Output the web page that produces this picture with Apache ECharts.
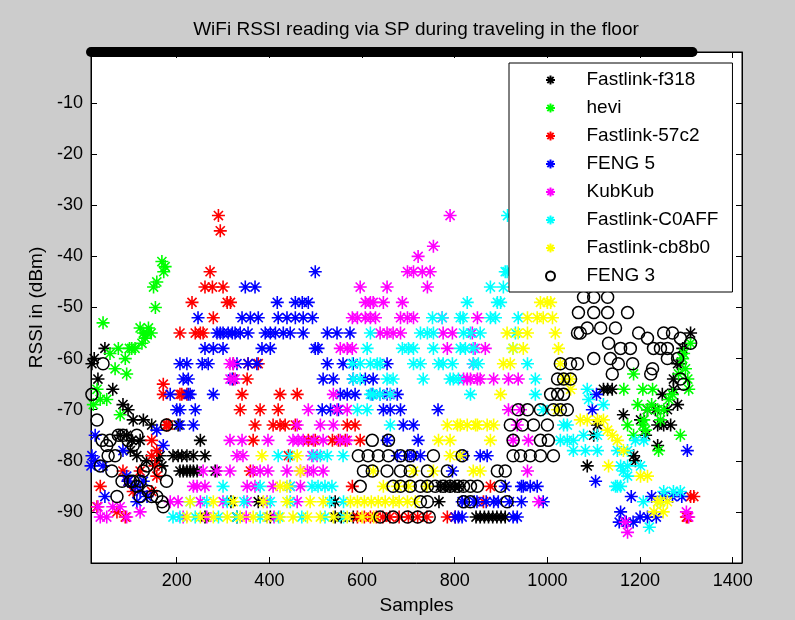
<!DOCTYPE html>
<html>
<head>
<meta charset="utf-8">
<script src="https://cdn.jsdelivr.net/npm/echarts@6.0.0/dist/echarts.min.js"></script>
<style>
html,body{margin:0;padding:0;background:#cccccc;}
#chart{width:795px;height:620px;}
</style>
</head>
<body>
<div id="chart"></div>
<script>
// ---------- DATA ----------
var seriesNames = ['Fastlink-f318','hevi','Fastlink-57c2','FENG 5','KubKub','Fastlink-C0AFF','Fastlink-cb8b0','FENG 3'];
var xTicks = [200,400,600,800,1000,1200,1400];
var yTicks = [-90,-80,-70,-60,-50,-40,-30,-20,-10];

var f318 = [
[13,-63],[17,-61],[22,-60],[30,-64],[45,-58],[62,-66],[84,-69],[95,-70],[106,-72],[128,-72],[146,-73],[178,-73],[203,-73],
[78,-75],[92,-75],[103,-76],[121,-76],[100,-78],[114,-79],[135,-80],[157,-80],[164,-79],[168,-81],[192,-79],[203,-79],[211,-79],[222,-79],[236,-79],[261,-79],
[207,-82],[214,-82],[222,-82],[229,-82],[236,-82],[244,-82],[283,-82],[251,-76],
[261,-91],[330,-91],[402,-91],[317,-88],[376,-88],[542,-88],[542,-91],[555,-91],[581,-91],[766,-88],
[769,-85],[780,-85],[790,-85],[800,-85],[810,-85],
[846,-91],[855,-91],[864,-91],[873,-91],[882,-91],[891,-91],[900,-91],[909,-91],
[1086,-81],[1100,-75],[1108,-73],[1121,-66],[1130,-66],[1140,-66],[1164,-71],[1186,-79],[1190,-80],[1201,-72],[1212,-75],[1216,-70],[1233,-70],[1238,-73],[1238,-77],[1248,-67],[1251,-73],[1259,-70],[1266,-73],[1272,-64],[1272,-66],[1281,-61],[1281,-69],[1287,-61],[1292,-58],[1309,-55]
];
var hevi = [
[13,-59],[20,-69],[28,-66],[35,-68],[41,-53],[49,-68],[56,-59],[67,-62],[74,-58],[78,-71],[89,-60],[92,-63],[98,-58],[103,-58],[110,-58],[121,-54],[125,-57],[128,-55],[132,-56],[136,-55],[139,-54],[145,-55],[150,-46],[154,-50],[157,-45],[168,-41],[172,-43],[175,-42],
[1165,-66],[1173,-73],[1186,-63],[1186,-75],[1195,-69],[1206,-66],[1206,-73],[1208,-72],[1212,-74],[1216,-70],[1225,-69],[1227,-66],[1238,-70],[1240,-78],[1244,-72],[1251,-70],[1262,-68],[1270,-67],[1283,-63],[1287,-75],[1292,-60],[1294,-59],[1298,-62],[1303,-64],[1305,-66],[1309,-57]
];
var c57c2 = [
[13,-85],[13,-89],[28,-89],[35,-85],[71,-90],[84,-82],[89,-91],[95,-84],[106,-86],[121,-82],[146,-76],[146,-79],[146,-86],[153,-81],[157,-78],[157,-83],[171,-65],[171,-67],[178,-73],[182,-73],[211,-67],
[290,-32],[294,-35],[272,-43],[261,-46],[277,-46],[300,-46],[233,-49],[309,-49],[316,-49],[279,-52],[207,-55],[240,-55],[251,-55],[257,-55],
[322,-61],[354,-61],[376,-61],[322,-64],[352,-64],[207,-67],[222,-67],[341,-67],[423,-67],[460,-67],[337,-70],[380,-70],[419,-70],
[369,-73],[408,-73],[423,-73],[434,-73],[456,-73],[568,-73],[585,-73],
[365,-76],[484,-76],[499,-76],[536,-76],[549,-76],[564,-76],[596,-76],[441,-79],[359,-82],[579,-85],[877,-85],[862,-88],
[590,-91],[605,-91],[618,-91],[631,-91],[645,-91],[660,-91],[680,-91],[700,-91],[720,-91],[740,-91],[784,-91],[801,-91],
[1300,-91],[1303,-91],[1309,-87],[1316,-87]
];
var feng5 = [
[499,-43],[348,-46],[369,-46],[417,-49],[456,-49],[471,-49],[484,-49],
[246,-52],[341,-52],[359,-52],[376,-52],[419,-52],[438,-52],[456,-52],[473,-52],[493,-52],
[287,-55],[294,-55],[300,-55],[311,-55],[320,-55],[326,-55],[337,-55],[354,-55],[391,-55],[402,-55],[413,-55],[430,-55],[445,-55],[473,-55],[525,-55],[546,-55],[574,-55],
[261,-58],[279,-58],[300,-58],[384,-58],[402,-58],[499,-58],[505,-58],
[207,-61],[222,-61],[255,-61],[268,-61],[330,-61],[354,-61],[373,-61],[525,-61],[559,-61],[581,-61],[654,-61],
[214,-64],[225,-64],[320,-64],[516,-64],[538,-64],[581,-64],[607,-64],[624,-64],
[186,-67],[225,-67],[229,-67],[279,-67],[553,-67],[568,-67],[585,-67],[622,-67],[639,-67],[654,-67],[676,-67],
[200,-70],[207,-70],[240,-70],[514,-70],[532,-70],[549,-70],[646,-70],[661,-70],[683,-70],[764,-70],
[207,-73],[236,-73],[689,-73],[711,-73],
[654,-76],[721,-76],
[676,-79],[698,-79],[711,-79],[726,-79],[819,-79],[855,-79],[870,-79],
[795,-82],
[909,-85],[944,-85],[948,-85],[963,-85],[978,-85],
[816,-88],[823,-88],[842,-88],[848,-88],[868,-88],[884,-88],[894,-88],[918,-88],[944,-88],[991,-88],
[801,-91],[808,-91],[816,-91],[926,-91],[935,-91],
[15,-81],[17,-79],[24,-75],[24,-80],[41,-81],[45,-87],[84,-78],[92,-83],[95,-84],[110,-85],[114,-88],[121,-86],[128,-84],[136,-87],[157,-74],[171,-77],
[1097,-70],[1104,-84],[1106,-67],[1155,-92],[1158,-90],[1170,-92],[1181,-87],[1185,-92],[1200,-91],[1216,-91],[1225,-87],[1235,-91],[1250,-87],[1270,-87],[1290,-87],[1302,-78]
];
var kubkub = [
[790,-32],[754,-38],[721,-40],[698,-43],[711,-43],[730,-43],[747,-43],[596,-46],[654,-46],[741,-46],
[607,-49],[618,-49],[624,-49],[646,-49],[687,-49],
[579,-52],[590,-52],[607,-52],[618,-52],[629,-52],[683,-52],[698,-52],[711,-52],[773,-52],[849,-52],
[639,-55],[654,-55],[667,-55],[683,-55],[775,-55],[795,-55],[838,-55],
[553,-58],[568,-58],[579,-58],[784,-58],[844,-58],[866,-58],
[315,-61],[322,-61],[840,-61],
[315,-64],[326,-64],[819,-64],[827,-64],[834,-64],[849,-64],[855,-64],[884,-64],[916,-64],[937,-64],
[538,-67],[661,-67],
[484,-70],[546,-70],[568,-70],[916,-70],[942,-70],
[460,-73],[510,-73],[538,-73],[935,-73],
[315,-76],[341,-76],[397,-76],[451,-76],[462,-76],[473,-76],[495,-76],[516,-76],[553,-76],[568,-76],[926,-76],[959,-76],
[330,-79],[343,-79],[492,-79],[503,-79],
[257,-82],[287,-82],[315,-82],[365,-82],[380,-82],[397,-82],[438,-82],[467,-82],[482,-82],[495,-82],[516,-82],[957,-82],
[236,-85],[244,-85],[261,-85],[352,-85],[369,-85],[408,-85],[445,-85],[467,-85],
[186,-88],[203,-88],[251,-88],[300,-88],[352,-88],[395,-88],[460,-88],[981,-88],
[30,-89],[35,-91],[49,-91],[62,-89],[78,-89],[92,-91],[121,-90],[214,-91],[265,-91],[350,-91],[410,-91],
[1168,-92],[1173,-94],[1300,-90],[1305,-91]
];
var c0aff = [
[914,-32],[909,-43],[913,-43],[877,-46],[905,-46],[827,-49],[892,-49],[899,-49],
[752,-52],[773,-52],[812,-52],[818,-52],[877,-52],[888,-52],[937,-52],
[618,-55],[726,-55],[741,-55],[754,-55],[819,-55],[834,-55],[855,-55],[931,-55],
[611,-58],[687,-58],[700,-58],[711,-58],[754,-58],[812,-58],[823,-58],[840,-58],[926,-58],
[579,-61],[596,-61],[618,-61],[633,-61],[639,-61],[711,-61],[726,-61],[765,-61],[775,-61],[795,-61],[840,-61],[851,-61],[957,-61],
[581,-64],[596,-64],[654,-64],[667,-64],[732,-64],[790,-64],[797,-64],[808,-64],[974,-64],
[618,-67],[624,-67],[639,-67],[661,-67],[834,-67],[974,-67],
[590,-70],[611,-70],[991,-70],
[661,-73],[1035,-73],[1043,-73],
[1028,-76],[1043,-76],[1056,-76],
[419,-79],[445,-79],[495,-79],[510,-79],[525,-79],[559,-79],
[300,-85],[380,-85],[445,-85],[492,-85],[505,-85],[520,-85],[535,-85],
[229,-88],[265,-88],[309,-88],[345,-88],[402,-88],[445,-88],[530,-88],[560,-88],
[192,-91],[207,-91],[240,-91],[290,-91],[330,-91],[380,-91],[420,-91],[470,-91],[520,-91],[560,-91],
[1078,-75],[1082,-78],[1086,-66],[1089,-68],[1056,-78],[1108,-75],[1108,-78],[1121,-69],[1147,-85],[1151,-78],[1151,-85],[1158,-81],[1158,-85],[1164,-82],[1173,-78],[1173,-81],[1173,-83],[1190,-76],[1201,-81],[1207,-88],[1208,-76],[1220,-93],[1244,-88],[1251,-86],[1272,-86],[1287,-86]
];
var cb8b0 = [
[985,-49],[1000,-49],[1007,-49],[957,-52],[978,-52],[991,-52],[1011,-52],[913,-55],[937,-55],[957,-55],[1017,-55],
[926,-58],[948,-58],[1024,-58],[905,-61],[920,-61],[1028,-61],[1035,-64],[1050,-64],[1050,-66],[899,-67],[1022,-70],
[1071,-72],[1086,-72],[1108,-72],[1121,-72],[784,-73],[806,-73],[812,-73],[827,-73],[845,-73],[849,-73],[870,-73],[884,-73],
[1130,-74],[1140,-75],[765,-76],[790,-76],[877,-76],[1151,-76],[1164,-78],
[384,-79],[460,-79],[790,-79],[812,-79],[1132,-81],
[467,-82],[624,-82],[711,-82],[754,-82],[840,-82],[855,-82],[1201,-83],[1216,-83],
[423,-85],[438,-85],[646,-85],[676,-85],[700,-85],[740,-85],
[229,-88],[279,-88],[322,-88],[387,-88],[438,-88],[488,-88],[516,-88],[575,-88],[590,-88],[605,-88],[620,-88],[635,-88],[650,-88],[667,-88],[680,-88],[698,-88],[715,-88],
[1238,-88],[1244,-88],[1259,-88],[1230,-90],[1250,-90],
[222,-91],[251,-91],[279,-91],[309,-91],[337,-91],[365,-91],[395,-91],[423,-91],[451,-91],[482,-91],[510,-91],[538,-91],[568,-91],[600,-91],[625,-91]
];
var feng3 = [
[41,-61],[17,-67],[28,-72],[39,-76],[49,-77],[56,-76],[67,-79],[60,-82],[74,-75],[84,-75],[95,-76],[106,-77],[114,-75],[35,-81],[52,-79],[106,-84],[114,-85],[121,-84],[128,-82],[136,-81],[139,-86],[146,-87],[157,-87],[168,-88],[178,-84],[164,-82],[71,-87],[82,-84],[100,-84],[121,-87],[178,-73],[171,-89],
[622,-76],[657,-76],
[592,-79],[613,-79],[635,-79],[657,-79],[683,-79],[704,-79],[754,-79],[816,-79],
[603,-82],[622,-82],[654,-82],[683,-82],[704,-82],[741,-82],[784,-82],
[596,-85],[667,-85],[683,-85],[704,-85],[726,-85],[741,-85],[758,-85],[775,-85],[790,-85],[806,-85],[819,-85],[834,-85],[849,-85],[899,-85],
[726,-88],[741,-88],[819,-88],[834,-88],[913,-88],
[639,-91],[667,-91],[698,-91],[720,-91],[745,-91],
[1078,-48],[1100,-48],[1130,-48],[1067,-51],[1100,-51],[1130,-51],[1173,-51],[1065,-55],[1071,-55],[1086,-54],[1115,-54],[1147,-54],[1132,-57],[1158,-58],[1179,-58],[1197,-55],[1216,-56],[1251,-55],[1270,-55],[1287,-56],[1309,-57],[1229,-58],[1244,-58],[1259,-58],[1100,-60],[1136,-60],[1153,-61],[1184,-61],[1227,-62],[1223,-63],[1140,-63],[1259,-60],[1281,-60],[1287,-64],[1294,-65],
[1028,-61],[1050,-61],[1065,-61],[1022,-64],[1035,-64],[1050,-64],[1007,-67],[1022,-67],[1035,-67],[1013,-70],[1028,-70],[1043,-70],[937,-70],[957,-70],[985,-70],[920,-73],[946,-73],[970,-73],[1000,-73],[926,-76],[985,-76],[1002,-76],[926,-79],[942,-79],[963,-79],[985,-79],[1013,-79],[892,-82],[909,-82]
];
// readings of 0 dBm (no signal) drawn as a dense band along the top edge
var topBand = [[15,0],[1313,0]];

// ---------- CHART ----------
var FONT = '"Liberation Sans", Arial, Helvetica, sans-serif';
var STAR = 'path://M0,-10L0,10M-10,0L10,0M-7,-7L7,7M-7,7L7,-7';
var colors = ['#000000','#00ff00','#ff0000','#0000ff','#ff00ff','#00ffff','#ffff00','#000000'];
var datasets = [f318, hevi, c57c2, feng5, kubkub, c0aff, cb8b0, feng3];

var series = datasets.map(function (d, i) {
  var isCircle = (i === 7);
  return {
    name: seriesNames[i],
    type: 'scatter',
    data: d,
    symbol: isCircle ? 'circle' : STAR,
    symbolSize: isCircle ? 12 : 13,
    itemStyle: {
      color: isCircle ? 'rgba(0,0,0,0)' : colors[i],
      borderColor: colors[i],
      borderWidth: isCircle ? 1.5 : 1.6,
      opacity: 1
    },
    emphasis: {disabled: true},
    silent: true
  };
});
series.push({
  name: 'band',
  type: 'line',
  xAxisIndex: 1,
  yAxisIndex: 1,
  data: topBand,
  symbol: 'none',
  clip: false,
  lineStyle: {color: '#000', width: 10, cap: 'round'},
  silent: true,
  z: 3
});

function plainNum(v) { return String(v); }
function xAxisDef(pos, showLabel) {
  return {
    type: 'value', position: pos, min: 15, max: 1420,
    axisLine: {show: true, onZero: false, lineStyle: {color: '#000', width: 1}},
    axisTick: {show: true, inside: true, length: 6, customValues: xTicks, lineStyle: {color: '#000'}},
    axisLabel: {show: showLabel, customValues: xTicks, formatter: plainNum, color: '#000', fontSize: 18, fontFamily: FONT, margin: 9},
    splitLine: {show: false}
  };
}
function yAxisDef(pos, showLabel) {
  return {
    type: 'value', position: pos, min: -100, max: 0, interval: 10,
    axisLine: {show: true, onZero: false, lineStyle: {color: '#000', width: 1}},
    axisTick: {show: true, inside: true, length: 6, customValues: yTicks, lineStyle: {color: '#000'}},
    axisLabel: {show: showLabel, customValues: yTicks, formatter: plainNum, color: '#000', fontSize: 18, fontFamily: FONT, margin: 8},
    splitLine: {show: false}
  };
}
var xa = xAxisDef('bottom', true);
xa.name = 'Samples'; xa.nameLocation = 'middle'; xa.nameGap = 33;
xa.nameTextStyle = {color: '#000', fontSize: 19, fontFamily: FONT};
var ya = yAxisDef('left', true);
ya.name = 'RSSI in (dBm)'; ya.nameLocation = 'middle'; ya.nameGap = 44; ya.nameRotate = 90;
ya.nameTextStyle = {color: '#000', fontSize: 19, fontFamily: FONT};

var option = {
  backgroundColor: '#cccccc',
  animation: false,
  title: {
    text: 'WiFi RSSI reading via SP during traveling in the floor',
    left: 411, top: 15, textAlign: 'center',
    textStyle: {color: '#000', fontSize: 19, fontWeight: 'normal', fontFamily: FONT}
  },
  grid: {left: 91, top: 52, width: 651, height: 511, show: true, backgroundColor: '#ffffff', borderColor: '#000', borderWidth: 1, containLabel: false},
  xAxis: [xa, xAxisDef('top', false)],
  yAxis: [ya, yAxisDef('right', false)],
  legend: {
    data: seriesNames,
    orient: 'vertical',
    left: 509, top: 63,
    backgroundColor: '#ffffff',
    borderColor: '#000', borderWidth: 1, borderRadius: 0,
    padding: [7, 14, 6, 36],
    itemGap: 8, itemWidth: 62, itemHeight: 9,
    symbolKeepAspect: true,
    textStyle: {color: '#000', fontSize: 19, fontFamily: FONT, lineHeight: 20},
    selectedMode: false,
    z: 10
  },
  series: series
};
var chart = echarts.init(document.getElementById('chart'), null, {renderer: 'canvas'});
chart.setOption(option);
</script>
</body>
</html>
